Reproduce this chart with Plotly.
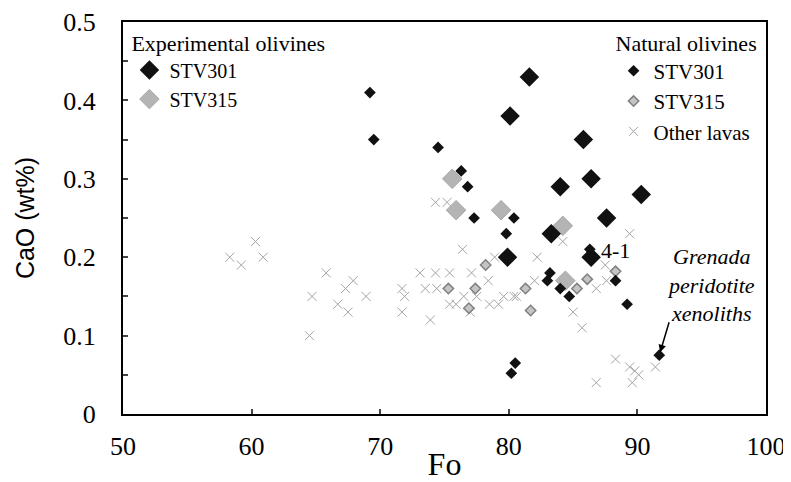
import plotly.graph_objects as go

# Experimental olivines
exp301_fo = [81.6, 80.1, 85.8, 86.4, 84.0, 90.3, 87.6, 83.3, 79.9, 86.4]
exp301_cao = [0.43, 0.38, 0.35, 0.30, 0.29, 0.28, 0.25, 0.23, 0.20, 0.20]
exp315_fo = [75.6, 75.9, 79.4, 84.2, 84.4]
exp315_cao = [0.30, 0.26, 0.26, 0.24, 0.17]

# Natural olivines
nat301_fo = [69.2, 69.5, 74.5, 76.3, 76.8, 77.3, 80.4, 79.8, 83.2, 83.0, 84.0, 84.7,
             86.3, 88.3, 89.2, 80.5, 80.2, 91.7]
nat301_cao = [0.41, 0.35, 0.34, 0.31, 0.29, 0.25, 0.25, 0.23, 0.18, 0.17, 0.16, 0.15,
              0.21, 0.17, 0.14, 0.065, 0.052, 0.075]
nat315_fo = [78.2, 75.3, 77.4, 76.9, 81.3, 81.7, 85.3, 86.1, 88.3]
nat315_cao = [0.19, 0.16, 0.16, 0.135, 0.16, 0.132, 0.16, 0.172, 0.182]
other_fo = [58.3, 59.2, 60.3, 60.9, 64.5, 64.7, 65.8, 66.7, 67.3, 67.5, 67.9, 68.9,
            71.7, 71.9, 71.7, 73.1, 73.9, 74.3, 75.4, 74.3, 75.2, 74.4, 75.4, 75.9,
            76.4, 77.0, 77.1, 78.4, 78.5, 78.9, 79.2, 79.6, 80.4, 80.6, 82.0, 82.2,
            84.2, 85.0, 85.7, 86.8, 86.8, 87.5, 87.6, 88.3, 89.4, 89.4, 89.8, 90.1,
            89.6, 91.4, 73.5, 76.5, 77.5]
other_cao = [0.20, 0.19, 0.22, 0.20, 0.10, 0.15, 0.18, 0.14, 0.16, 0.13, 0.17, 0.15,
             0.16, 0.15, 0.13, 0.18, 0.12, 0.18, 0.18, 0.27, 0.27, 0.16, 0.14, 0.14,
             0.21, 0.13, 0.18, 0.17, 0.14, 0.20, 0.14, 0.15, 0.15, 0.15, 0.17, 0.20,
             0.22, 0.13, 0.11, 0.16, 0.04, 0.19, 0.17, 0.07, 0.06, 0.23, 0.055, 0.05,
             0.04, 0.06, 0.16, 0.15, 0.15]

serif = 'Liberation Serif'

data = [
    go.Scatter(x=other_fo, y=other_cao, mode='markers', name='Other lavas', legend='legend2',
               legendrank=3,
               marker=dict(symbol='x-thin', size=9, line=dict(width=1, color='#a4a4a4'))),
    go.Scatter(x=nat315_fo, y=nat315_cao, mode='markers', name='STV315', legend='legend2',
               legendrank=2,
               marker=dict(symbol='diamond', size=8, color='#c4c4c4',
                           line=dict(width=1.5, color='#808080'))),
    go.Scatter(x=exp315_fo, y=exp315_cao, mode='markers', name='STV315', legend='legend',
               legendrank=2,
               marker=dict(symbol='diamond', size=15, color='#b4b4b4',
                           line=dict(width=1, color='#a8a8a8'))),
    go.Scatter(x=exp301_fo, y=exp301_cao, mode='markers', name='STV301', legend='legend',
               legendrank=1,
               marker=dict(symbol='diamond', size=15, color='#111111')),
    go.Scatter(x=nat301_fo, y=nat301_cao, mode='markers', name='STV301', legend='legend2',
               legendrank=1,
               marker=dict(symbol='diamond', size=9, color='#111111')),
]

# page body adds an 8px margin at top/left
layout = go.Layout(
    width=783, height=474,
    paper_bgcolor='white', plot_bgcolor='white',
    margin=dict(l=115, r=25, t=14, b=68),
    font=dict(family=serif, size=20, color='black'),
    xaxis=dict(range=[50, 100], dtick=10, ticks='inside', ticklen=5, tickwidth=1.5,
               showline=True, linewidth=2, linecolor='black', mirror=True,
               showgrid=False, zeroline=False, ticklabelstandoff=8, automargin=False,
               ticklabeloverflow='allow',
               tickfont=dict(family=serif, size=26),
               title=dict(text='Fo', font=dict(family=serif, size=32), standoff=28)),
    yaxis=dict(range=[0, 0.5], dtick=0.1, ticks='inside', ticklen=5, tickwidth=1.5,
               showline=True, linewidth=2, linecolor='black', mirror=True,
               showgrid=False, zeroline=False, ticklabelstandoff=20, automargin=False,
               ticklabeloverflow='allow',
               minor=dict(dtick=0.05, ticks='inside', ticklen=5, tickwidth=1.5),
               tickfont=dict(family=serif, size=26),
               title=dict(text='CaO (wt%)', font=dict(family='Liberation Sans', size=25),
                          standoff=22)),
    legend=dict(x=0.01, y=1.0, xanchor='left', yanchor='top',
                bgcolor='rgba(0,0,0,0)',
                title=dict(text='Experimental olivines', font=dict(family=serif, size=22)),
                font=dict(family=serif, size=20), itemsizing='trace', tracegroupgap=0),
    legend2=dict(x=0.99, y=1.0, xanchor='right', yanchor='top',
                 bgcolor='rgba(0,0,0,0)',
                 title=dict(text='Natural olivines', font=dict(family=serif, size=22)),
                 font=dict(family=serif, size=21), itemsizing='trace', tracegroupgap=0),
    showlegend=True,
    annotations=[
        dict(x=88.3, y=0.208, xref='x', yref='y', text='4-1', showarrow=False,
             font=dict(family=serif, size=22)),
        dict(x=95.7, y=0.164, xref='x', yref='y', showarrow=False,
             text='<i>Grenada<br>peridotite<br>xenoliths</i>',
             font=dict(family=serif, size=22), align='center'),
        dict(x=91.7, y=0.075, xref='x', yref='y', ax=92.5, ay=0.119,
             axref='x', ayref='y', text='', showarrow=True, arrowhead=2,
             arrowsize=1, arrowwidth=1.5, arrowcolor='black', standoff=3),
    ],
)

fig = go.Figure(data=data, layout=layout)
fig.write_html('out.html')
